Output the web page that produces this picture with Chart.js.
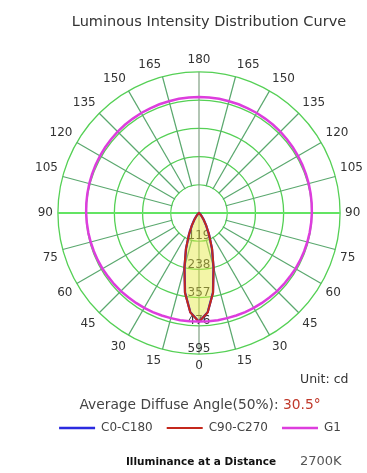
<!DOCTYPE html>
<html lang="en">
<head>
<meta charset="UTF-8">
<meta name="viewport" content="width=device-width, initial-scale=1.0">
<title>Luminous Intensity Distribution Curve</title>
<script src="https://cdn.jsdelivr.net/npm/chart.js"></script>
<style>
    html, body { margin: 0; padding: 0; background: #fff; }
    #wrap { width: 367px; height: 473px; position: relative; }
</style>
</head>
<body>
    <div id="wrap">
        <canvas id="lidc"></canvas>
    </div>
    <script>
        // gamma angle in degrees, 0 = straight down, 180 = straight up
        const gammaAngles = [0, 5, 10, 15, 20, 25, 30, 35, 40, 45, 50, 55, 60, 65, 70, 75, 80, 85, 90,
            95, 100, 105, 110, 115, 120, 125, 130, 135, 140, 145, 150, 155, 160, 165, 170, 175, 180];
        // intensity in cd (one half, the other half is the same)
        const c0c180 = [459, 420, 340, 236, 160, 100, 60, 34, 18, 9, 4, 2, 1, 0, 0, 0, 0, 0, 0,
            0, 0, 0, 0, 0, 0, 0, 0, 0, 0, 0, 0, 0, 0, 0, 0, 0, 0];
        const c90c270 = [459, 421, 342, 238, 162, 101, 61, 34, 18, 9, 4, 2, 1, 0, 0, 0, 0, 0, 0,
            0, 0, 0, 0, 0, 0, 0, 0, 0, 0, 0, 0, 0, 0, 0, 0, 0, 0];
        const g1 = [458, 458, 459, 459, 460, 461, 462, 463, 464, 466, 467, 468, 470, 471, 472, 473, 474, 475, 476,
            477, 478, 479, 480, 481, 482, 483, 484, 485, 486, 486, 487, 487, 488, 488, 489, 489, 489];
        const intensityTicks = [119, 238, 357, 476, 595];
        const seriesNames = ['C0-C180', 'C90-C270', 'G1'];
        const diffuseAngle = '30.5°';
        const colourTemp = '2700K';

        // left half runs 0 -> 180, right half comes back 175 -> 5
        const mirror = arr => arr.concat(arr.slice(1, -1).reverse());
        const labels = mirror(gammaAngles).map(String);

        const extras = {
            id: 'extras',
            beforeDatasetsDraw(chart) {
                const ctx = chart.ctx;
                const r = chart.scales.r;
                const r1 = r.getDistanceFromCenterForValue(intensityTicks[0]);
                ctx.save();
                // the first ring has no spokes, only the two axes
                ctx.beginPath();
                ctx.arc(r.xCenter, r.yCenter, r1 - 0.7, 0, Math.PI * 2);
                ctx.fillStyle = '#fff';
                ctx.fill();
                ctx.lineWidth = 1;
                ctx.strokeStyle = '#7f9f82';
                ctx.beginPath();
                ctx.moveTo(r.xCenter, r.yCenter - r1);
                ctx.lineTo(r.xCenter, r.yCenter + r1);
                ctx.stroke();
                ctx.lineWidth = 2;
                ctx.strokeStyle = '#63e463';
                ctx.beginPath();
                ctx.moveTo(r.xCenter - r1, r.yCenter);
                ctx.lineTo(r.xCenter + r1, r.yCenter);
                ctx.stroke();
                // intensity values down the 0 deg axis
                ctx.font = '12px "DejaVu Sans"';
                ctx.fillStyle = '#333';
                ctx.textAlign = 'center';
                ctx.textBaseline = 'middle';
                intensityTicks.forEach(v => {
                    const p = r.getPointPositionForValue(0, v);
                    ctx.fillText(String(v), p.x, p.y - 5);
                });
                ctx.restore();
            },
            afterDraw(chart) {
                const ctx = chart.ctx;
                ctx.save();
                ctx.textBaseline = 'middle';
                ctx.fillStyle = '#333';
                ctx.textAlign = 'center';
                ctx.font = '14.5px "DejaVu Sans"';
                ctx.fillText('Luminous Intensity Distribution Curve', 209, 22);

                ctx.textAlign = 'left';
                ctx.font = '12.5px "DejaVu Sans"';
                ctx.fillText('Unit: cd', 300, 380);

                // average diffuse angle, value in red
                ctx.font = '13.8px "DejaVu Sans"';
                const head = 'Average Diffuse Angle(50%): ';
                const w1 = ctx.measureText(head).width;
                const w2 = ctx.measureText(diffuseAngle).width;
                const x0 = 200 - (w1 + w2) / 2;
                ctx.fillStyle = '#444';
                ctx.fillText(head, x0, 405);
                ctx.fillStyle = '#c0392b';
                ctx.fillText(diffuseAngle, x0 + w1, 405);

                ctx.textAlign = 'center';
                ctx.fillStyle = '#111';
                ctx.font = 'bold 10.5px "DejaVu Sans"';
                ctx.fillText('Illuminance at a Distance', 201, 462);
                ctx.textAlign = 'left';
                ctx.fillStyle = '#555';
                ctx.font = '13px "DejaVu Sans"';
                ctx.fillText(colourTemp, 300, 462);
                ctx.restore();
            }
        };

        const ctx = document.getElementById('lidc').getContext('2d');
        const chart = new Chart(ctx, {
            type: 'radar',
            data: {
                labels: labels,
                datasets: [
                    {
                        label: seriesNames[0],
                        data: mirror(c0c180),
                        borderColor: '#2b2be0',
                        backgroundColor: 'rgba(228, 232, 60, 0.45)',
                        borderWidth: 2.3,
                        fill: 'origin',
                        order: 2
                    },
                    {
                        label: seriesNames[1],
                        data: mirror(c90c270),
                        borderColor: '#c4281c',
                        backgroundColor: '#c4281c',
                        borderWidth: 2,
                        fill: false,
                        order: 1
                    },
                    {
                        label: seriesNames[2],
                        data: mirror(g1),
                        borderColor: '#dd3ddd',
                        backgroundColor: '#dd3ddd',
                        borderWidth: 2.5,
                        fill: false,
                        order: 0
                    }
                ]
            },
            plugins: [extras],
            options: {
                responsive: true,
                maintainAspectRatio: false,
                animation: false,
                layout: {
                    padding: { left: 36, right: 3, top: 51, bottom: 29 }
                },
                elements: {
                    point: { radius: 0, hitRadius: 0 },
                    line: { tension: 0 }
                },
                scales: {
                    r: {
                        startAngle: 180,
                        min: 0,
                        max: 595,
                        ticks: { display: false, stepSize: 119 },
                        grid: { circular: true, color: '#55d055', lineWidth: 1.3 },
                        angleLines: {
                            color: c => {
                                if (c.index % 18 === 0) return (c.index / 18) % 2 ? '#63e463' : '#7f9f82';
                                return c.index % 3 === 0 ? '#5aa86e' : null;
                            },
                            lineWidth: c => {
                                if (c.index % 3) return 0;
                                return (c.index % 36 === 18) ? 2 : 1.2;
                            }
                        },
                        pointLabels: {
                            padding: 5,
                            color: '#333',
                            font: { family: 'DejaVu Sans', size: 12 },
                            callback: (label, i) => (i % 3 === 0 ? label : '')
                        }
                    }
                },
                plugins: {
                    title: { display: false },
                    tooltip: { enabled: false },
                    legend: {
                        position: 'bottom',
                        title: { display: true, text: ' ', font: { size: 10 }, padding: { top: 0, bottom: 21 } },
                        labels: {
                            usePointStyle: true,
                            pointStyle: 'line',
                            pointStyleWidth: 36,
                            padding: 14,
                            color: '#444',
                            font: { family: 'DejaVu Sans', size: 12 },
                            sort: (a, b) => a.datasetIndex - b.datasetIndex
                        }
                    }
                }
            }
        });
    </script>
</body>
</html>
